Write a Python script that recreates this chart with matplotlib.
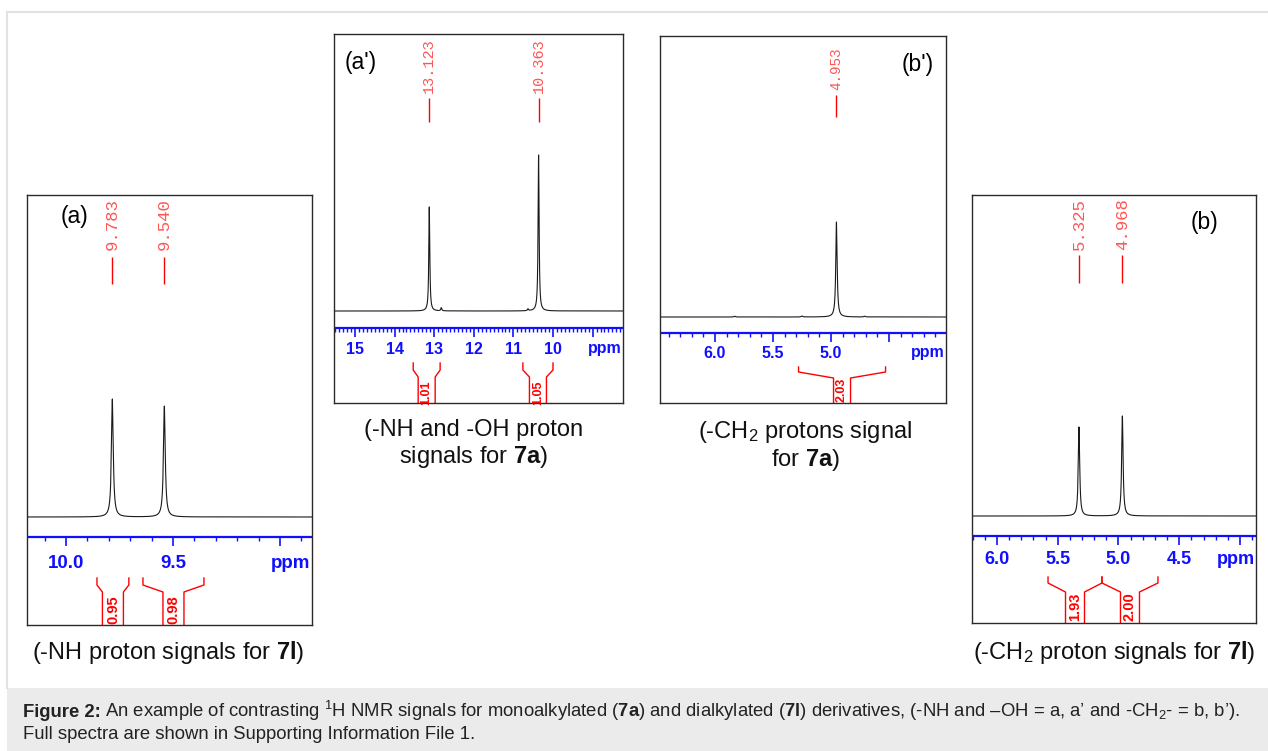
import numpy as np
import matplotlib
matplotlib.use("Agg")
import matplotlib.pyplot as plt
from matplotlib.patches import Rectangle
from matplotlib.transforms import blended_transform_factory

plt.rcParams['font.family'] = ['Liberation Sans', 'DejaVu Sans']
plt.rcParams['mathtext.fontset'] = 'custom'
plt.rcParams['mathtext.rm'] = 'Liberation Sans'
plt.rcParams['mathtext.bf'] = 'Liberation Sans:bold'
plt.rcParams['mathtext.it'] = 'Liberation Sans:italic'

W, H = 1268, 751
BLUE = '#1010ff'
RED = '#ff0000'

# ---- data ----
# (a) -NH signals of 7l
a_shifts = [9.783, 9.540]
a_heights = [1.0, 0.94]
a_ticks = [10.0, 9.5]
a_ticklabels = ['10.0', '9.5']
a_int_ranges = [(9.855, 9.706), (9.640, 9.355)]
a_int_values = ['0.95', '0.98']

# (a') -NH and -OH signals of 7a
ap_shifts = [13.123, 10.363]
ap_heights = [0.667, 1.0]
ap_minor_shifts = [12.82, 10.63]
ap_minor_heights = [0.02, 0.012]
ap_ticks = [15, 14, 13, 12, 11, 10]
ap_ticklabels = ['15', '14', '13', '12', '11', '10']
ap_int_ranges = [(13.53, 12.85), (10.76, 10.0)]
ap_int_values = ['1.01', '1.05']

# (b') -CH2 signal of 7a
bp_shifts = [4.953]
bp_heights = [1.0]
bp_minor_shifts = [5.83, 5.25, 4.71]
bp_minor_heights = [0.008, 0.01, 0.008]
bp_ticks = [6.0, 5.5, 5.0]
bp_ticklabels = ['6.0', '5.5', '5.0']
bp_int_ranges = [(5.28, 4.53)]
bp_int_values = ['2.03']

# (b) -CH2 signals of 7l
b_shifts = [5.325, 4.968]
b_heights = [0.89, 1.0]
b_ticks = [6.0, 5.5, 5.0, 4.5]
b_ticklabels = ['6.0', '5.5', '5.0', '4.5']
b_int_ranges = [(5.58, 5.136), (5.136, 4.675)]
b_int_values = ['1.93', '2.00']

# ---- page layout (pixels) ----
fig = plt.figure(figsize=(W / 100, H / 100), dpi=100)
bg = fig.add_axes([0, 0, 1, 1])
bg.set_xlim(0, W)
bg.set_ylim(H, 0)
bg.axis('off')

bg.plot([7, 7], [12, 688], color='#e2e2e2', lw=1.5)
bg.plot([7, W], [12, 12], color='#e2e2e2', lw=1.5)
bg.add_patch(Rectangle((7, 688), W - 7, H - 688, facecolor='#ebebeb', edgecolor='none'))


def panel(box, xlim, shifts, heights, hwhm, ticks, ticklabels, int_ranges, int_values,
          lay, minor_shifts=(), minor_heights=()):
    l, t, r, b = box
    ax = fig.add_axes([l / W, 1 - b / H, (r - l) / W, (b - t) / H])
    ax.set_facecolor('none')
    ax.set_xlim(xlim)
    ax.set_ylim(b, t)
    ax.set_xticks([])
    ax.set_yticks([])
    for sp in ax.spines.values():
        sp.set_linewidth(1.0)
        sp.set_color('#2a2a2a')

    # spectrum from lorentzian lines
    x = np.linspace(xlim[1], xlim[0], 40000)
    y = np.zeros_like(x)
    for s, h in zip(list(shifts) + list(minor_shifts), list(heights) + list(minor_heights)):
        y += h / (1 + ((x - s) / hwhm) ** 2)
    ax.plot(x, lay['base'] - lay['scale'] * y, color='#1a1a1a', lw=0.8)

    # blue ppm axis
    ax.axhline(lay['axis'], color=BLUE, lw=1.6)
    major = lay['major']
    majors = np.arange(np.ceil(xlim[1] / major), np.floor(xlim[0] / major) + 1) * major
    minors = np.arange(np.ceil(xlim[1] * 10), np.floor(xlim[0] * 10) + 1) / 10
    minors = [m for m in minors if np.min(np.abs(majors - m)) > 1e-6]
    ax.vlines(majors, lay['axis'], lay['axis'] + 9, color=BLUE, lw=1.2)
    ax.vlines(minors, lay['axis'], lay['axis'] + 4, color=BLUE, lw=1.0)
    for v, s in zip(ticks, ticklabels):
        ax.text(v, lay['lab'], s, ha='center', va='center', color=BLUE,
                fontweight='bold', fontsize=lay['tfs'])
    tr = blended_transform_factory(ax.transAxes, ax.transData)
    ax.text(0.995, lay['lab'], 'ppm', transform=tr, ha='right', va='center',
            color=BLUE, fontweight='bold', fontsize=lay['tfs'])

    # integral brackets
    ppp = (r - l) / (xlim[0] - xlim[1])
    hw = lay['ihw'] / ppp
    for (x0, x1), val in zip(int_ranges, int_values):
        c = (x0 + x1) / 2
        ax.plot([x0, x0, c + hw, c + hw], [lay['itop'], lay['ikink'], lay['iin'], b],
                color=RED, lw=1.0, clip_on=False)
        ax.plot([x1, x1, c - hw, c - hw], [lay['itop'], lay['ikink'], lay['iin'], b],
                color=RED, lw=1.0, clip_on=False)
        ax.text(c, lay['itext'], val, rotation=90, ha='center', va='center',
                color=RED, fontweight='bold', fontsize=lay['ifs'])

    # peak picking labels
    for s in shifts:
        ax.text(s, lay['ptext'], f'{s:.3f}', rotation=90, ha='center', va='bottom',
                family='Liberation Mono', color='#ff5555', fontsize=lay['pfs'])
        ax.vlines(s, lay['pl'][0], lay['pl'][1], color=RED, lw=1.0)

    bg.text(lay['tag'][1], lay['tag'][2], lay['tag'][0], ha='center', va='center',
            fontsize=16.5, color='black')
    return ax


panel((27, 195, 312, 625), (10.182, 8.850), a_shifts, a_heights, 0.005,
      a_ticks, a_ticklabels, a_int_ranges, a_int_values,
      dict(base=517, scale=118, axis=537, lab=563, tfs=13.5, major=0.5,
           itop=578, ikink=585, iin=592, ihw=10.5, itext=610, ifs=10.5,
           ptext=250, pl=(257, 284), pfs=12.5, tag=('(a)', 74, 217)))

panel((334, 34, 623, 403), (15.53, 8.232), ap_shifts, ap_heights, 0.015,
      ap_ticks, ap_ticklabels, ap_int_ranges, ap_int_values,
      dict(base=311, scale=156, axis=328, lab=349, tfs=11.5, major=1.0,
           itop=363, ikink=370, iin=377, ihw=8.5, itext=393, ifs=9,
           ptext=93, pl=(98, 122), pfs=11, tag=("(a')", 361, 62)),
      ap_minor_shifts, ap_minor_heights)

panel((660, 36, 946, 403), (6.474, 4.009), bp_shifts, bp_heights, 0.007,
      bp_ticks, bp_ticklabels, bp_int_ranges, bp_int_values,
      dict(base=317, scale=95, axis=333, lab=353, tfs=11.5, major=0.5,
           itop=367, ikink=372, iin=378, ihw=8.5, itext=390, ifs=9,
           ptext=90, pl=(95, 117), pfs=10.3, tag=("(b')", 918, 65)),
      bp_minor_shifts, bp_minor_heights)

panel((972, 195, 1256, 623), (6.206, 3.868), b_shifts, b_heights, 0.007,
      b_ticks, b_ticklabels, b_int_ranges, b_int_values,
      dict(base=516, scale=100, axis=536, lab=560, tfs=13, major=0.5,
           itop=577, ikink=583, iin=592, ihw=9.5, itext=607, ifs=10.5,
           ptext=250, pl=(255, 283), pfs=12.5, tag=('(b)', 1205, 222)))

# panel captions
cap = dict(ha='center', va='center', fontsize=17, color='#111111')
bg.text(168, 652, r'(-NH proton signals for $\mathbf{7l}$)', **cap)
bg.text(474, 430, '(-NH and -OH proton', **cap)
bg.text(474, 457, r'signals for $\mathbf{7a}$)', **cap)
bg.text(805, 432, r'(-CH$_2$ protons signal', **cap)
bg.text(805, 460, r'for $\mathbf{7a}$)', **cap)
bg.text(1114, 652, r'(-CH$_2$ proton signals for $\mathbf{7l}$)', **cap)

# figure caption
cfs = 13.3
head = bg.text(23, 717, 'Figure 2:', ha='left', va='baseline', fontsize=cfs,
               fontweight='bold', color='#222222')
renderer = fig.canvas.get_renderer()
x_head = head.get_window_extent(renderer).x1
line1 = (r'An example of contrasting $^{1}$H NMR signals for '
         r'monoalkylated ($\mathbf{7a}$) and dialkylated ($\mathbf{7l}$) derivatives, '
         r'(-NH and –OH = a, a’ and -CH$_{2}$- = b, b’).')
line2 = 'Full spectra are shown in Supporting Information File 1.'
bg.text(x_head + 4, 717, line1, ha='left', va='baseline', fontsize=cfs, color='#222222')
bg.text(23, 739, line2, ha='left', va='baseline', fontsize=cfs, color='#222222')

fig.savefig('out.png', dpi=100)
